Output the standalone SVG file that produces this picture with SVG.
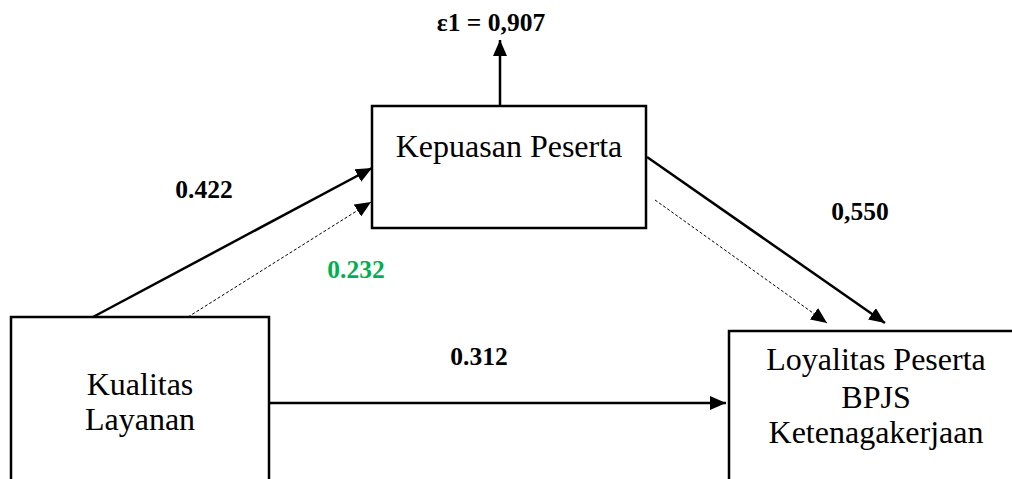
<svg xmlns="http://www.w3.org/2000/svg" width="1012" height="479" viewBox="0 0 1012 479">
<style>
.box{fill:#fff;stroke:#000;stroke-width:2.5}
.node{font-family:"Liberation Serif","Times New Roman",serif;font-size:32px;fill:#000;text-anchor:middle}
.lbl{font-family:"Liberation Serif","Times New Roman",serif;font-size:25.5px;font-weight:bold;fill:#000;text-anchor:middle}
.solid{stroke:#000;stroke-width:2.5;fill:none}
.dash{stroke:#000;stroke-width:1;stroke-dasharray:3,2;fill:none}
</style>
<defs>
<marker id="ah" markerUnits="userSpaceOnUse" markerWidth="16" markerHeight="14" viewBox="0 0 16 14" refX="16" refY="7" orient="auto">
<path d="M0,0 L16,7 L0,14 z" fill="#000"/>
</marker>
</defs>
<g id="connectors">
<line class="solid" x1="500" y1="106" x2="500" y2="40" marker-end="url(#ah)"/>
<line class="solid" x1="93" y1="317" x2="372" y2="168" marker-end="url(#ah)"/>
<line class="dash" x1="188" y1="317" x2="371" y2="202" marker-end="url(#ah)"/>
<line class="solid" x1="647" y1="157" x2="885" y2="323" marker-end="url(#ah)"/>
<line class="dash" x1="655" y1="200" x2="827" y2="323" marker-end="url(#ah)"/>
<line class="solid" x1="269" y1="403" x2="726" y2="403" marker-end="url(#ah)"/>
</g>
<g id="kepuasan">
<rect class="box" x="372" y="106" width="274" height="122"/>
<text class="node" x="509" y="157">Kepuasan Peserta</text>
</g>
<g id="kualitas">
<rect class="box" x="11" y="317" width="258" height="170"/>
<text class="node" x="140" y="395">Kualitas</text>
<text class="node" x="140" y="430">Layanan</text>
</g>
<g id="loyalitas">
<rect class="box" x="729" y="331" width="300" height="160"/>
<text class="node" x="876" y="370">Loyalitas Peserta</text>
<text class="node" x="876" y="408">BPJS</text>
<text class="node" x="876" y="443">Ketenagakerjaan</text>
</g>
<g id="labels">
<text class="lbl" x="491" y="31">ε1 = 0,907</text>
<text class="lbl" x="204" y="198">0.422</text>
<text class="lbl" x="356" y="278" style="fill:#00B050">0.232</text>
<text class="lbl" x="860" y="220">0,550</text>
<text class="lbl" x="479" y="365">0.312</text>
</g>
</svg>
